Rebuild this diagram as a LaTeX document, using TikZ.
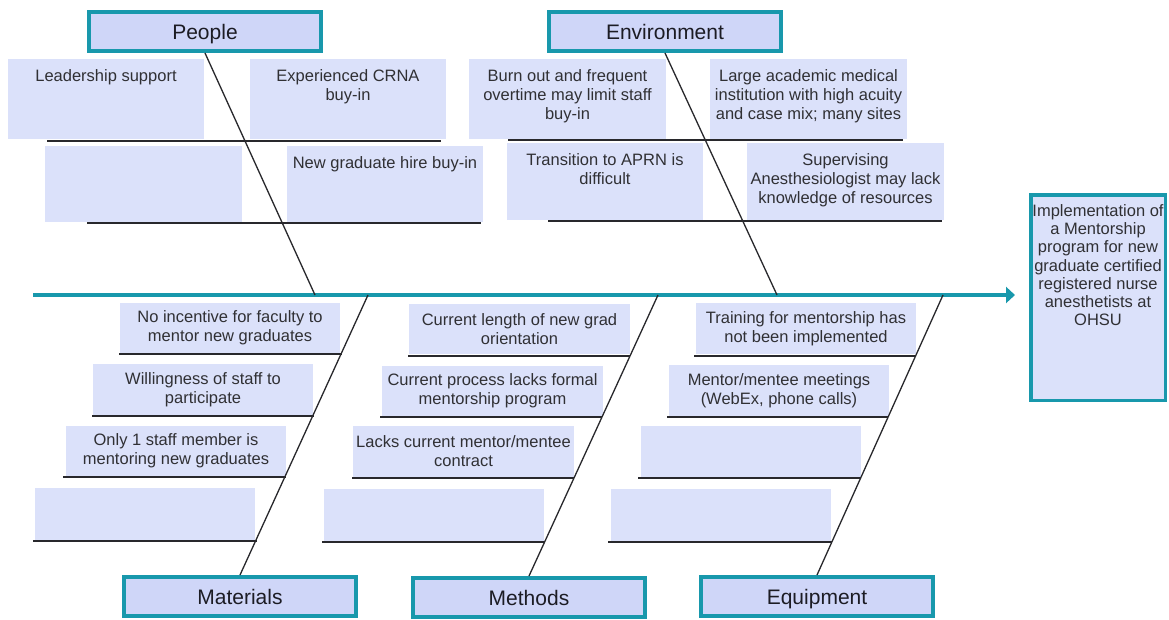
\documentclass[tikz,border=0pt]{standalone}
\usepackage{fontspec}
\setmainfont{Liberation Sans}
\usetikzlibrary{arrows.meta}

\definecolor{fbTeal}{RGB}{24,152,172}
\definecolor{boxFill}{RGB}{219,225,250}
\definecolor{catFill}{RGB}{207,214,248}
\definecolor{txtGray}{RGB}{48,48,52}
\definecolor{catText}{RGB}{28,28,36}
\definecolor{ribGray}{RGB}{40,40,44}

\newcommand{\causefont}{\fontsize{16.5}{19}\selectfont}
\newcommand{\catfont}{\fontsize{21}{24}\selectfont}
\newcommand{\outfont}{\fontsize{16.5}{18.3}\selectfont}

\begin{document}
\begin{tikzpicture}[x=1pt,y=-1pt,
  causebox/.style={fill=boxFill, draw=none, inner sep=0pt},
  causetext/.style={text=txtGray, font=\causefont, align=center, inner sep=0pt, anchor=north},
  lowbox/.style={causebox, text=txtGray, font=\causefont, align=center,
                 minimum width=220pt, minimum height=50pt},
  catbox/.style={draw=fbTeal, line width=4pt, fill=catFill, inner sep=0pt,
                 minimum width=232pt, minimum height=39pt, font=\catfont, text=catText,
                 text height=15pt, text depth=0pt},
  rib/.style={draw=ribGray, line width=1.3pt},
  bone/.style={draw=ribGray, line width=1.3pt},
  spine/.style={draw=fbTeal, line width=4pt, -{Triangle[length=9pt,width=16pt]}}
]
\useasboundingbox (0,0) rectangle (1169,619);
\fill[white] (0,0) rectangle (1169,619);

% ---------- category heads ----------
\node[catbox] (ppl) at (205,31.5) {People};
\node[catbox] (env) at (665,31.5) {Environment};
\node[catbox] (mat) at (240,596.5) {Materials};
\node[catbox] (mth) at (529,597.5) {Methods};
\node[catbox] (eqp) at (817,596.5) {Equipment};

% ---------- effect ----------
\node[draw=fbTeal, line width=3.5pt, fill=boxFill, inner sep=0pt,
      minimum width=134.5pt, minimum height=205.5pt] (out) at (1098,297.5) {};
\node[text=txtGray, font=\outfont, align=center, inner sep=0pt, anchor=north] (outt)
  at ([yshift=-11pt]out.north)
  {Implementation of\\a Mentorship\\program for new\\graduate certified\\registered nurse\\anesthetists at\\OHSU};

% ---------- spine ----------
\coordinate (spL) at (33,295);
\draw[spine] (spL) -- ([xshift=-14pt]out.west |- spL);

% ---------- People causes ----------
\node[causebox, minimum width=196pt, minimum height=80pt] (pp1) at (106,99) {};
\node[causetext] (pp1t) at ([yshift=-11pt]pp1.north) {Leadership support};
\node[causebox, minimum width=196pt, minimum height=80pt] (pp2) at (348,99) {};
\node[causetext] (pp2t) at ([yshift=-11pt]pp2.north) {Experienced CRNA\\buy-in};
\node[causebox, minimum width=197pt, minimum height=76pt] (pp3) at (143.5,184) {};
\node[causebox, minimum width=196pt, minimum height=76pt] (pp4) at (385,184) {};
\node[causetext] (pp4t) at ([yshift=-11pt]pp4.north) {New graduate hire buy-in};

% ---------- Environment causes ----------
\node[causebox, minimum width=197pt, minimum height=80pt] (en1) at (567.5,99) {};
\node[causetext] (en1t) at ([yshift=-11pt]en1.north) {Burn out and frequent\\overtime may limit staff\\buy-in};
\node[causebox, minimum width=197pt, minimum height=80pt] (en2) at (808.5,99) {};
\node[causetext] (en2t) at ([yshift=-11pt]en2.north) {Large academic medical\\institution with high acuity\\and case mix; many sites};
\node[causebox, minimum width=196pt, minimum height=77pt] (en3) at (605,181.5) {};
\node[causetext] (en3t) at ([yshift=-11pt]en3.north) {Transition to APRN is\\difficult};
\node[causebox, minimum width=197pt, minimum height=77pt] (en4) at (845.5,181.5) {};
\node[causetext] (en4t) at ([yshift=-11pt]en4.north) {Supervising\\Anesthesiologist may lack\\knowledge of resources};

% ---------- Materials causes ----------
\node[lowbox] (ma1) at (230,328) {No incentive for faculty to\\mentor new graduates};
\node[lowbox, minimum height=51pt] (ma2) at (203,389.5) {Willingness of staff to\\participate};
\node[lowbox] (ma3) at (176,451) {Only 1 staff member is\\mentoring new graduates};
\node[lowbox, minimum height=52pt] (ma4) at (145,514) {};

% ---------- Methods causes ----------
\node[lowbox, minimum width=221pt] (me1) at (519.5,329) {Current length of new grad\\orientation};
\node[lowbox, minimum width=221pt] (me2) at (492.5,391) {Current process lacks formal\\mentorship program};
\node[lowbox, minimum width=221pt, minimum height=51pt] (me3) at (463.5,451.5) {Lacks current mentor/mentee\\contract};
\node[lowbox, minimum height=52pt] (me4) at (434,515) {};

% ---------- Equipment causes ----------
\node[lowbox, minimum height=51pt] (eq1) at (806,328.5) {Training for mentorship has\\not been implemented};
\node[lowbox, minimum height=51pt] (eq2) at (779,390.5) {Mentor/mentee meetings\\(WebEx, phone calls)};
\node[lowbox, minimum height=51pt] (eq3) at (751,451.5) {};
\node[lowbox, minimum height=52pt] (eq4) at (721,515) {};

% ---------- ribs under the cause boxes ----------
\draw[rib] (47,141) -- (441,141);
\draw[rib] (87,223) -- (481,223);
\draw[rib] (508,140) -- (903,140);
\draw[rib] (548,221) -- (942,221);

\draw[rib] (119,354) -- (341.5,354);
\draw[rib] (92,416) -- (313.5,416);
\draw[rib] (63,477) -- (286,477);
\draw[rib] (33,541) -- (257,541);

\draw[rib] (408,356) -- (630,356);
\draw[rib] (380,417) -- (602,417);
\draw[rib] (352,478) -- (574,478);
\draw[rib] (322,542) -- (545,542);

\draw[rib] (694,356) -- (915.5,356);
\draw[rib] (667,417) -- (888,417);
\draw[rib] (638,478) -- (860.6,478);
\draw[rib] (608,542) -- (832,542);

% ---------- bones from spine to heads ----------
\coordinate (jP) at (315,295);
\coordinate (jE) at (777,295);
\coordinate (jM) at (368,295);
\coordinate (jT) at (658,295);
\coordinate (jQ) at (943,295);
\draw[bone] (ppl.south) -- (jP);
\draw[bone] (env.south) -- (jE);
\draw[bone] (jM) -- (mat.north);
\draw[bone] (jT) -- (mth.north);
\draw[bone] (jQ) -- (eqp.north);
\end{tikzpicture}
\end{document}
